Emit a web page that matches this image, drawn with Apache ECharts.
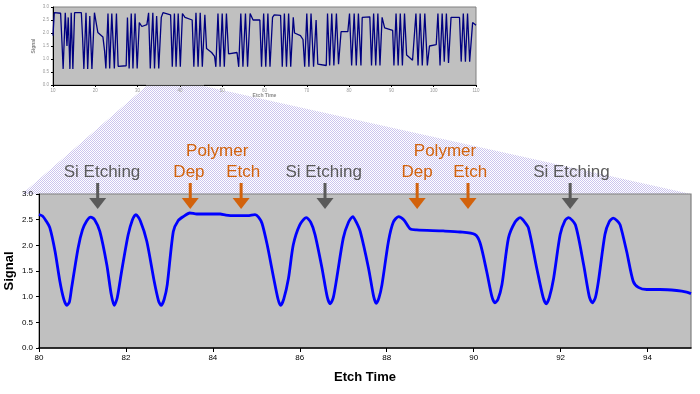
<!DOCTYPE html>
<html><head><meta charset="utf-8">
<script src="https://cdn.jsdelivr.net/npm/echarts@6/dist/echarts.min.js"></script>
<style>html,body{margin:0;padding:0;background:#fff}#c{width:700px;height:394px}</style>
</head><body><div id="c"></div>
<script>
// ---- Main (zoomed) signal: etch time 80..95 ----
const mainT = [80.00,80.08,80.16,80.25,80.37,80.48,80.57,80.64,80.70,80.75,80.90,81.00,81.10,81.19,81.28,81.40,81.56,81.66,81.73,81.80,81.90,82.05,82.15,82.23,82.33,82.48,82.65,82.75,82.81,82.88,82.95,83.09,83.20,83.32,83.47,83.63,84.17,84.30,84.50,84.80,84.97,85.05,85.13,85.25,85.40,85.50,85.56,85.63,85.74,85.85,86.00,86.15,86.25,86.35,86.51,86.63,86.70,86.77,86.85,87.00,87.12,87.22,87.30,87.39,87.58,87.70,87.76,87.82,87.89,88.04,88.15,88.27,88.39,88.54,88.69,89.30,89.69,90.03,90.15,90.30,90.42,90.49,90.56,90.65,90.80,90.95,91.07,91.15,91.26,91.45,91.60,91.67,91.74,91.84,91.99,92.10,92.18,92.34,92.53,92.66,92.73,92.80,92.87,93.02,93.12,93.21,93.30,93.37,93.52,93.67,93.79,93.98,94.29,94.67,94.90,95.00];
const mainV = [2.60,2.57,2.48,2.34,1.88,1.30,0.95,0.83,0.90,1.17,1.95,2.30,2.48,2.55,2.50,2.27,1.62,1.05,0.83,0.98,1.49,2.20,2.50,2.60,2.48,2.08,1.30,0.92,0.83,0.95,1.23,2.27,2.48,2.56,2.63,2.61,2.61,2.59,2.58,2.58,2.60,2.55,2.43,2.01,1.36,0.95,0.83,0.95,1.36,2.01,2.40,2.54,2.45,2.21,1.56,1.00,0.86,0.98,1.36,2.14,2.45,2.56,2.45,2.27,1.56,1.00,0.87,0.97,1.23,2.08,2.45,2.56,2.50,2.32,2.30,2.28,2.26,2.21,2.04,1.49,1.00,0.88,0.95,1.23,2.14,2.45,2.54,2.48,2.34,1.56,0.98,0.86,0.98,1.36,2.21,2.48,2.54,2.40,1.62,1.00,0.88,0.98,1.30,2.21,2.46,2.53,2.48,2.40,1.88,1.30,1.18,1.14,1.14,1.12,1.09,1.06];

// ---- Overview signal: etch time 10..110 ----
const overT = [10.0,10.3,11.8,12.1,12.4,12.9,13.3,13.6,14.0,14.3,14.7,15.1,16.7,17.0,17.3,17.8,18.2,18.7,19.2,19.8,20.3,20.6,21.8,22.2,22.5,23.0,23.4,23.9,24.5,25.0,25.4,27.3,27.6,28.0,28.5,28.9,29.4,29.9,30.4,31.0,32.2,32.6,33.0,33.6,34.0,34.5,35.0,35.6,36.0,37.8,38.2,38.7,39.1,39.6,40.1,40.6,41.2,42.9,43.3,43.8,44.3,44.8,45.3,45.9,46.3,47.5,48.2,48.5,49.0,49.5,50.0,50.5,51.0,51.5,53.5,53.9,54.4,54.9,55.5,56.0,56.6,57.3,58.9,59.3,59.8,60.3,60.8,61.3,61.9,62.3,63.8,64.2,64.7,65.2,65.7,66.2,66.8,67.1,68.5,69.1,69.5,70.0,70.5,71.0,71.6,72.2,72.6,74.6,74.9,75.4,75.9,76.4,77.0,77.5,78.1,79.7,80.1,80.6,81.2,81.7,82.2,82.8,83.1,84.9,85.3,85.8,86.3,86.8,87.3,87.8,88.4,90.3,90.6,91.1,91.6,92.1,92.6,93.1,93.6,95.0,95.4,95.8,96.3,96.8,97.3,97.9,98.5,99.0,100.6,101.0,101.5,102.0,102.5,103.0,103.5,104.1,106.1,106.5,107.0,107.5,108.0,108.5,109.2,110.0];
const overV = [1.90,2.78,2.76,1.70,0.62,2.78,1.50,2.60,0.62,2.78,0.62,2.78,2.78,1.80,0.62,2.78,0.62,2.65,0.62,2.78,2.30,2.02,1.85,1.30,0.64,2.75,0.64,2.75,0.64,2.75,0.72,0.74,2.60,0.64,2.75,0.64,2.75,0.64,2.40,2.25,2.32,2.78,0.64,2.78,0.64,2.65,0.64,2.60,2.78,2.70,0.70,2.75,0.70,2.75,0.70,2.75,2.60,2.50,0.70,2.78,0.70,2.78,0.70,2.70,1.40,1.25,1.10,0.70,2.75,0.70,2.75,0.70,2.75,1.20,1.25,0.70,2.75,0.70,2.75,0.70,2.75,2.50,2.50,0.70,2.75,0.70,2.75,0.70,2.60,2.70,2.68,0.70,2.75,0.70,2.75,0.70,2.60,2.00,1.90,1.75,0.70,2.75,0.70,2.75,0.70,2.50,0.80,0.75,2.75,0.75,2.75,0.75,2.75,0.80,2.05,2.05,2.75,0.75,2.75,0.75,2.75,0.75,2.60,2.62,0.75,2.75,0.75,2.75,0.75,2.60,2.20,2.10,0.75,2.75,0.75,2.75,0.75,2.75,1.15,0.95,0.90,2.75,0.75,2.75,0.75,2.75,0.75,1.50,1.55,2.75,0.75,2.75,0.90,2.75,0.85,2.60,2.60,0.90,2.75,0.90,2.75,0.90,2.40,2.30];

// ---- Annotations (etch time positions) ----
const arrowT = [81.35, 83.48, 84.65, 86.58, 88.70, 89.87, 92.22];
const arrowKind = ['si','poly','poly','si','poly','poly','si'];
const labelT = [81.45, 83.45, 84.70, 86.55, 88.70, 89.92, 92.25, 84.10, 89.34];
const labelText = ['Si Etching','Dep','Etch','Si Etching','Dep','Etch','Si Etching','Polymer','Polymer'];
const labelKind = ['si','poly','poly','si','poly','poly','si','poly','poly'];
const labelRow = [0,0,0,0,0,0,0,1,1];
// zoom region of overview mapped to main chart
const zoomFrom = [32.1, 45.6];
const zoomTo = [79.61, 95];

const COL = {si:'#5a5a5a', poly:'#d2620c'};
const FONT = 'Liberation Sans, Arial, sans-serif';

const chart = echarts.init(document.getElementById('c'), null, {renderer:'canvas'});

const mainData = mainT.map((t,i)=>[t, mainV[i]]);
const overData = overT.map((t,i)=>[t, overV[i]]);

const fmt = v => v.toFixed(1);

const option = {
  animation:false,
  backgroundColor:'#ffffff',
  grid:[
    {left:53, top:7, width:423, height:78, show:true, backgroundColor:'#c0c0c0', borderColor:'#808080', borderWidth:1, containLabel:false, outerBoundsMode:'none'},
    {left:39, top:194, width:652, height:154, show:true, backgroundColor:'#c0c0c0', borderColor:'#808080', borderWidth:1.2, containLabel:false, outerBoundsMode:'none'}
  ],
  xAxis:[
    {gridIndex:0, type:'value', min:10, max:110, interval:10,
     name:'Etch Time', nameLocation:'middle', nameGap:8, nameMoveOverlap:false,
     nameTextStyle:{fontSize:5, color:'#888', fontWeight:'bold', fontFamily:FONT},
     axisLine:{lineStyle:{color:'#000', width:1}}, axisTick:{length:2, lineStyle:{color:'#000'}},
     axisLabel:{fontSize:4.5, color:'#999', margin:3, fontFamily:FONT},
     splitLine:{show:false}},
    {gridIndex:1, type:'value', min:80, max:95, interval:2,
     name:'Etch Time', nameLocation:'middle', nameGap:23, nameMoveOverlap:false,
     nameTextStyle:{fontSize:13, color:'#000', fontWeight:'bold', fontFamily:FONT},
     axisLine:{lineStyle:{color:'#000', width:1.5}}, axisTick:{length:4, lineStyle:{color:'#000'}},
     axisLabel:{fontSize:8, color:'#000', margin:6, fontFamily:FONT, showMaxLabel:false},
     splitLine:{show:false}}
  ],
  yAxis:[
    {gridIndex:0, type:'value', min:0, max:3, interval:0.5,
     name:'Signal', nameLocation:'middle', nameGap:17, nameMoveOverlap:false,
     nameTextStyle:{fontSize:5, color:'#888', fontWeight:'bold', fontFamily:FONT},
     axisLine:{show:true, lineStyle:{color:'#000', width:1}}, axisTick:{show:true, length:2, lineStyle:{color:'#000'}},
     axisLabel:{fontSize:4.5, color:'#999', margin:4, formatter:fmt, fontFamily:FONT},
     splitLine:{show:false}},
    {gridIndex:1, type:'value', min:0, max:3, interval:0.5,
     name:'Signal', nameLocation:'middle', nameGap:23, nameMoveOverlap:false,
     nameTextStyle:{fontSize:13, color:'#000', fontWeight:'bold', fontFamily:FONT},
     axisLine:{show:true, lineStyle:{color:'#000', width:1}}, axisTick:{show:true, length:3, lineStyle:{color:'#000'}},
     axisLabel:{fontSize:8, color:'#000', margin:6, formatter:fmt, fontFamily:FONT},
     splitLine:{show:false}}
  ],
  series:[
    {type:'line', xAxisIndex:0, yAxisIndex:0, data:overData, showSymbol:false, symbol:'none',
     lineStyle:{color:'#000080', width:1.3}, z:3},
    {type:'line', xAxisIndex:1, yAxisIndex:1, data:mainData, showSymbol:false, symbol:'none', smooth:0.25,
     lineStyle:{color:'#0000ff', width:2.8}, z:3},
    {type:'custom', xAxisIndex:1, yAxisIndex:1, clip:false, silent:true, z:10,
     data: arrowT.map(t=>[t,3]),
     renderItem:function(params, api){
       const p = api.coord([api.value(0), 3]);
       const c = COL[arrowKind[params.dataIndex]];
       return {type:'group', children:[
         {type:'rect', shape:{x:p[0]-1.5, y:p[1]-11, width:3, height:16}, style:{fill:c}},
         {type:'polygon', shape:{points:[[p[0]-8.5,p[1]+4],[p[0]+8.5,p[1]+4],[p[0],p[1]+15]]}, style:{fill:c}}
       ]};
     }},
    {type:'custom', xAxisIndex:1, yAxisIndex:1, clip:false, silent:true, z:10,
     data: labelT.map(t=>[t,3]),
     renderItem:function(params, api){
       const i = params.dataIndex;
       const p = api.coord([api.value(0), 3]);
       return {type:'text', x:p[0], y:p[1] - (labelRow[i]===1 ? 42.3 : 21.3),
         style:{text:labelText[i], fill:COL[labelKind[i]], font:'17px ' + FONT, align:'center', verticalAlign:'middle'}};
     }}
  ]
};
chart.setOption(option);

// zoom-connection trapezoid (hatched lavender)
const pc = document.createElement('canvas');
pc.width = 2; pc.height = 2;
const pctx = pc.getContext('2d');
pctx.fillStyle = '#ffffff'; pctx.fillRect(0,0,2,2);
pctx.fillStyle = '#cbc4ee'; pctx.fillRect(0,0,1,1); pctx.fillRect(1,1,1,1);

const a = chart.convertToPixel({xAxisIndex:0, yAxisIndex:0}, [zoomFrom[0], 0]);
const b = chart.convertToPixel({xAxisIndex:0, yAxisIndex:0}, [zoomFrom[1], 0]);
const cR = chart.convertToPixel({xAxisIndex:1, yAxisIndex:1}, [zoomTo[1], 3]);
const cL = chart.convertToPixel({xAxisIndex:1, yAxisIndex:1}, [zoomTo[0], 3]);
chart.setOption({graphic:[
  {type:'polygon', z:-1, silent:true,
   shape:{points:[[a[0],a[1]+1],[b[0],b[1]+1],[cR[0],cR[1]],[cL[0],cL[1]]]},
   style:{fill:{image:pc, repeat:'repeat'}}},
  {type:'line', z:100, silent:true, shape:{x1:a[0], y1:a[1], x2:b[0], y2:b[1]},
   style:{stroke:'#ffffff', lineWidth:1.2, lineDash:[1,1]}}
]});
</script></body></html>
